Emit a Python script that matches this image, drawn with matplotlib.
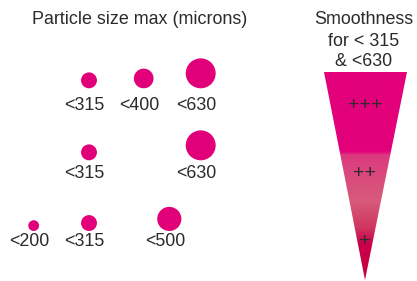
import numpy as np
import matplotlib
matplotlib.use('Agg')
import matplotlib.pyplot as plt
from matplotlib.patches import Circle, Polygon
from matplotlib.colors import LinearSegmentedColormap

plt.rcParams['font.family'] = ['Liberation Sans', 'DejaVu Sans']

# data
fila1_etiquetas = ['<315', '<400', '<630']
fila1_tamanos = [315, 400, 630]
fila2_etiquetas = ['<315', '<630']
fila2_tamanos = [315, 630]
fila3_etiquetas = ['<200', '<315', '<500']
fila3_tamanos = [200, 315, 500]
niveles = ['+++', '++', '+']

# layout (pixel coords)
col_x = {200: 33.7, 315: 89, 400: 143.7, 500: 169.3, 630: 200.7}
fila_base = [88.3, 160.3, 231]
fila_texto = [105, 173.5, 241]
magenta = '#E2007A'
texto_color = '#2b2b2b'


def radio(t):
    return 0.94 + 0.02226 * t


fig = plt.figure(figsize=(4.17, 2.81), dpi=100)
ax = fig.add_axes([0, 0, 1, 1])
ax.set_xlim(0, 417)
ax.set_ylim(281, 0)
ax.axis('off')

ax.text(140, 20, 'Particle size max (microns)', ha='center', va='center',
        fontsize=12.9, color=texto_color)

filas = [(fila1_etiquetas, fila1_tamanos), (fila2_etiquetas, fila2_tamanos),
         (fila3_etiquetas, fila3_tamanos)]
for i, (etiquetas, tamanos) in enumerate(filas):
    for etq, t in zip(etiquetas, tamanos):
        r = radio(t)
        x = col_x[t]
        ax.add_patch(Circle((x, fila_base[i] - r), r, color=magenta, lw=0))
        ax.text(x - 4.5, fila_texto[i], etq, ha='center', va='center',
                fontsize=12.9, color=texto_color)

# funnel
for linea, y in zip(['Smoothness', 'for < 315', '& <630'], [20, 41, 62]):
    ax.text(364, y, linea, ha='center', va='center', fontsize=12.9,
            color=texto_color)

top, bottom = 72, 280
tri = Polygon([(324, top), (407, top), (365, bottom)], closed=True,
              facecolor='none', edgecolor='none')
ax.add_patch(tri)
paradas = [(0.0, '#E3007B'), (0.38, '#E3007B'), (0.40, '#DC3A80'),
           (0.62, '#D75B7A'), (0.75, '#D0355F'), (0.83, '#C8004A'),
           (1.0, '#C4003F')]
cmap = LinearSegmentedColormap.from_list('embudo', paradas)
grad = np.linspace(0, 1, 400).reshape(-1, 1)
img = ax.imshow(grad, cmap=cmap, extent=(324, 407, bottom, top),
                aspect='auto', interpolation='bilinear')
img.set_clip_path(tri)

for nivel, y in zip(niveles, [106, 174, 242]):
    ax.text(365, y, nivel, ha='center', va='center', fontsize=14,
            color=texto_color)

ax.set_xlim(0, 417)
ax.set_ylim(281, 0)
fig.savefig('out.png', dpi=100)
